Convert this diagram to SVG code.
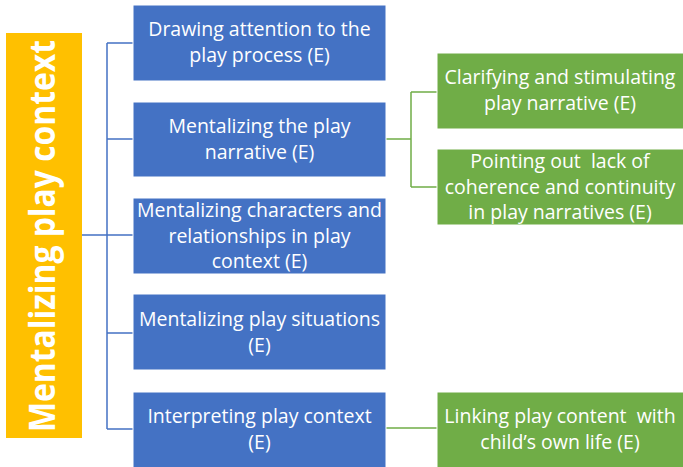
<svg xmlns="http://www.w3.org/2000/svg" width="683" height="467" viewBox="0 0 683 467">
<style>
.blue{fill:#4472C4;stroke:#ffffff;stroke-width:1}
.green{fill:#70AD47;stroke:#ffffff;stroke-width:1}
.yellow{fill:#FFC000}
.t{font-family:"Open Sans","Liberation Sans",Arial,sans-serif;font-size:19.5px;fill:#ffffff;text-anchor:middle;white-space:pre}
.title{font-family:"Open Sans","Liberation Sans",Arial,sans-serif;font-size:35px;font-weight:bold;fill:#ffffff;text-anchor:middle}
.cb{fill:none;stroke:#4472C4;stroke-width:1.5}
.cg{fill:none;stroke:#70AD47;stroke-width:1.5}
</style>
<rect width="683" height="467" fill="#ffffff"/>
<g id="connectors">
<path class="cb" d="M82 235H107M107 43V429M107 43H133M107 139H133M107 235H133M107 333H133M107 429H133"/>
<path class="cg" d="M386 139H411M411 92V187M411 92H437M411 187H437M386 428H437"/>
</g>
<g id="root">
<rect class="yellow" x="6" y="33" width="76" height="405"/>
<text class="title" transform="translate(55,236) rotate(-90)" x="0" y="0" textLength="392" lengthAdjust="spacingAndGlyphs">Mentalizing play context</text>
</g>
<g id="n1">
<rect class="blue" x="133" y="5" width="253" height="76"/>
<text class="t" x="259.5" y="36">Drawing attention to the</text>
<text class="t" x="259.5" y="62">play process (E)</text>
</g>
<g id="n2">
<rect class="blue" x="133" y="102" width="253" height="75"/>
<text class="t" x="259.5" y="133">Mentalizing the play</text>
<text class="t" x="259.5" y="159">narrative (E)</text>
</g>
<g id="n3">
<rect class="blue" x="133" y="198" width="253" height="76"/>
<text class="t" x="259.5" y="217">Mentalizing characters and</text>
<text class="t" x="259.5" y="243">relationships in play</text>
<text class="t" x="259.5" y="268">context (E)</text>
</g>
<g id="n4">
<rect class="blue" x="133" y="294" width="253" height="76"/>
<text class="t" x="259.5" y="326">Mentalizing play situations</text>
<text class="t" x="259.5" y="352">(E)</text>
</g>
<g id="n5">
<rect class="blue" x="133" y="392" width="253" height="76"/>
<text class="t" x="259.5" y="423">Interpreting play context</text>
<text class="t" x="259.5" y="449">(E)</text>
</g>
<g id="g1">
<rect class="green" x="437" y="53" width="247" height="76"/>
<text class="t" x="560" y="84">Clarifying and stimulating</text>
<text class="t" x="560" y="110">play narrative (E)</text>
</g>
<g id="g2">
<rect class="green" x="437" y="149" width="247" height="76"/>
<text class="t" x="560" y="168">Pointing out  lack of</text>
<text class="t" x="560" y="194">coherence and continuity</text>
<text class="t" x="560" y="219">in play narratives (E)</text>
</g>
<g id="g3">
<rect class="green" x="437" y="392" width="247" height="76"/>
<text class="t" x="560" y="423">Linking play content  with</text>
<text class="t" x="560" y="449">child’s own life (E)</text>
</g>
</svg>
